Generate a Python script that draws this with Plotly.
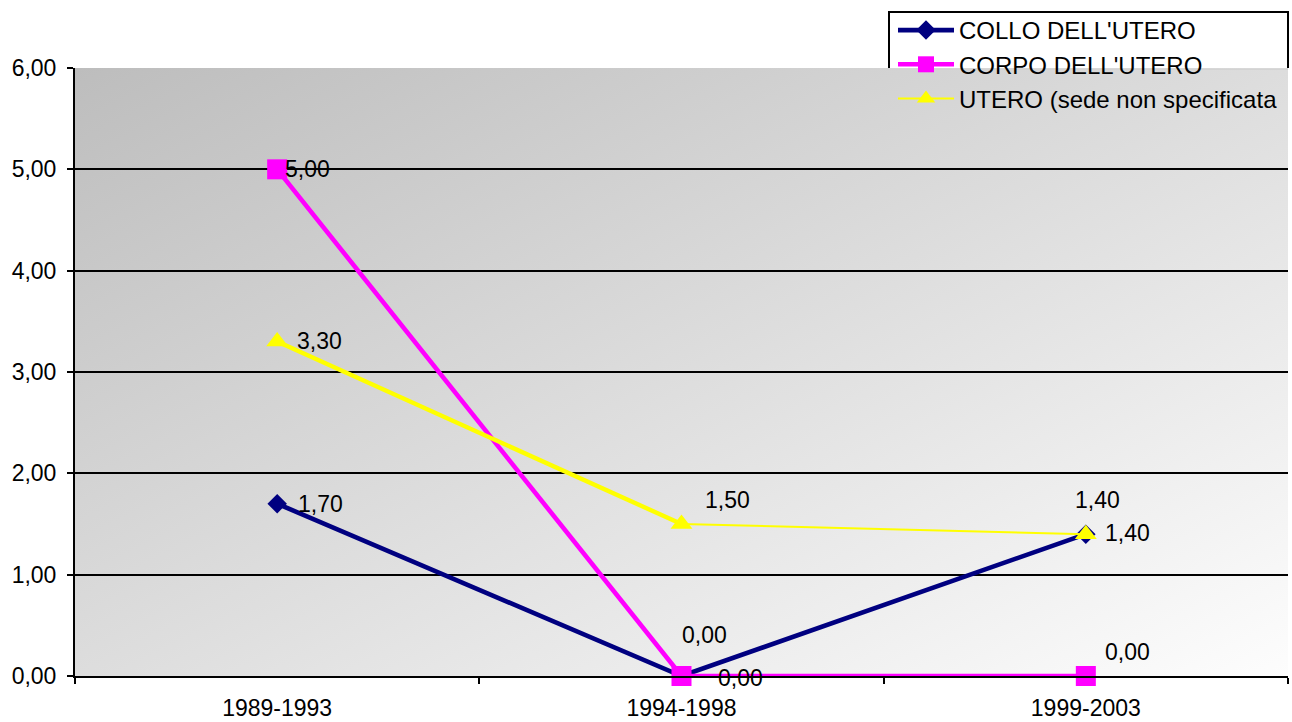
import base64
import plotly.graph_objects as go

# ---- data ----
periods = ["1989-1993", "1994-1998", "1999-2003"]
collo = [1.70, 0.00, 1.40]
corpo = [5.00, 0.00, 0.00]
utero = [3.30, 1.50, 1.40]
names = ["COLLO DELL'UTERO", "CORPO DELL'UTERO", "UTERO (sede non specificata"]
y_ticks = [0, 1, 2, 3, 4, 5, 6]

# ---- style ----
W, H = 1292, 722
L, R, T, B = 75, 4, 68, 46
PW, PH = W - L - R, H - T - B
FONT = "Liberation Sans, Arial, sans-serif"
FS = 23
NAVY, MAGENTA, YELLOW = "#000080", "#FF00FF", "#FFFF00"

def px(x):
    return (x - L) / PW

def py(y):
    return (H - B - y) / PH

fig = go.Figure()
fig.add_trace(go.Scatter(x=periods, y=collo, name=names[0], mode="lines+markers",
                         line=dict(color=NAVY, width=4.6),
                         marker=dict(symbol="diamond", size=15, color=NAVY),
                         cliponaxis=False, hoverinfo="skip"))
fig.add_trace(go.Scatter(x=periods, y=corpo, name=names[1], mode="lines+markers",
                         line=dict(color=MAGENTA, width=4.6),
                         marker=dict(symbol="square", size=20, color=MAGENTA),
                         cliponaxis=False, hoverinfo="skip"))
# thicker first yellow segment
fig.add_trace(go.Scatter(x=periods[:2], y=utero[:2], mode="lines", showlegend=False,
                         line=dict(color=YELLOW, width=4.4), cliponaxis=False, hoverinfo="skip"))
fig.add_trace(go.Scatter(x=periods, y=utero, name=names[2], mode="lines+markers",
                         line=dict(color=YELLOW, width=2),
                         marker=dict(symbol="triangle-up", size=19, color=YELLOW),
                         cliponaxis=False, hoverinfo="skip"))

# data labels (offsets in px)
label_offsets = {
    0: [(19, 0), (34, -2), (17, 1)],
    1: [(6, 0), (-2, 41), (17, 24)],
    2: [(18, 1), (21, 24), (-13, 34)],
}
for si, vals in enumerate([collo, corpo, utero]):
    for i, v in enumerate(vals):
        dx, dy = label_offsets[si][i]
        fig.add_annotation(x=periods[i], y=v, text=f"{v:.2f}".replace(".", ","),
                           showarrow=False, xanchor="left", yanchor="middle",
                           xshift=dx, yshift=dy, font=dict(family=FONT, size=FS, color="black"))

# gradient plot background
svg = ('<svg xmlns="http://www.w3.org/2000/svg" width="1213" height="608" viewBox="0 0 1213 608" '
       'preserveAspectRatio="none"><defs><linearGradient id="g" x1="0" y1="0" x2="1" y2="1">'
       '<stop offset="0" stop-color="#bdbdbd"/><stop offset="1" stop-color="#fdfdfd"/>'
       '</linearGradient></defs><rect width="1213" height="608" fill="url(#g)"/></svg>')
src = "data:image/svg+xml;base64," + base64.b64encode(svg.encode()).decode()
fig.add_layout_image(source=src, xref="paper", yref="paper", x=0, y=1, sizex=1, sizey=1,
                     xanchor="left", yanchor="top", sizing="stretch", layer="below")

# legend box (upper part, white with border)
fig.add_shape(type="rect", xref="paper", yref="paper", x0=px(890), x1=px(1290), y0=py(66), y1=py(68.2),
              fillcolor="white", line=dict(width=0), layer="above")
fig.add_shape(type="rect", xref="paper", yref="paper", x0=px(890), x1=px(1288), y0=py(68.2), y1=py(70),
              fillcolor="#d3d3d3", line=dict(width=0), layer="above")
fig.add_shape(type="path", xref="paper", yref="paper",
              path=f"M{px(889)},{py(68)} L{px(889)},{py(12)} L{px(1288)},{py(12)} L{px(1288)},{py(68)}",
              line=dict(color="black", width=2), layer="above")

fig.update_layout(
    width=W, height=H, margin=dict(l=L, r=R, t=T, b=B, pad=0, autoexpand=False),
    paper_bgcolor="white", plot_bgcolor="white",
    font=dict(family=FONT, size=FS, color="black"),
    separators=",.",
    showlegend=True,
    legend=dict(x=px(893), y=py(8), xanchor="left", yanchor="top",
                bgcolor="rgba(0,0,0,0)", borderwidth=0, itemwidth=56,
                font=dict(family=FONT, size=24, color="black"), tracegroupgap=0),
    xaxis=dict(type="category", categoryorder="array", categoryarray=periods,
               range=[-0.5, 2.5], tickson="boundaries", ticks="outside", ticklen=6,
               tickwidth=1.5, tickcolor="black", showgrid=False, showline=True,
               linecolor="black", linewidth=2, zeroline=False, fixedrange=True,
               automargin=False, ticklabelstandoff=10, tickfont=dict(family=FONT, size=FS)),
    yaxis=dict(range=[0, 6], tickvals=y_ticks, tickformat=".2f", ticks="outside", ticklen=6,
               tickwidth=2, tickcolor="black", showgrid=True, gridcolor="black", gridwidth=2,
               showline=True, linecolor="black", linewidth=2, zeroline=False, fixedrange=True,
               automargin=False, ticklabelstandoff=6, tickfont=dict(family=FONT, size=FS)),
)

fig.write_html("out.html")
